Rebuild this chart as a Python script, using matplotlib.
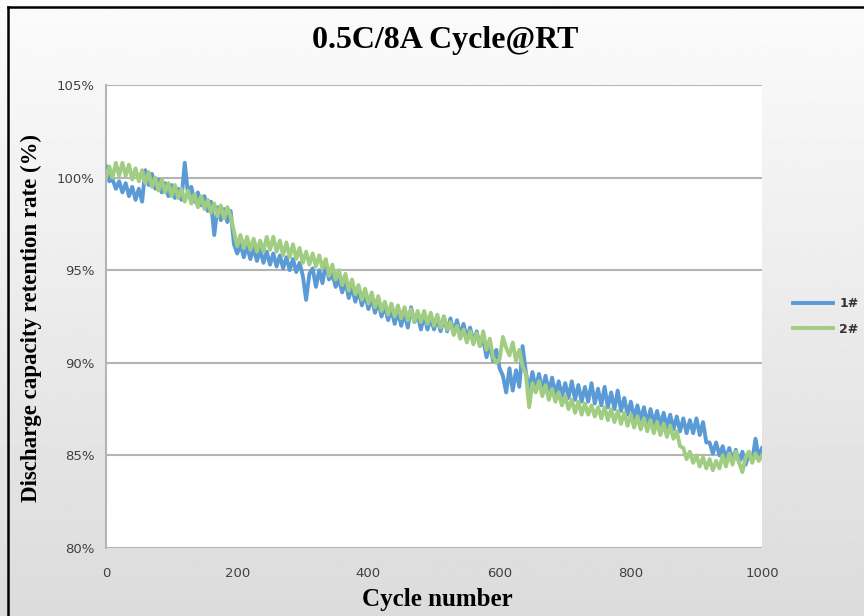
import matplotlib
matplotlib.use("Agg")
import matplotlib.pyplot as plt
import numpy as np
from matplotlib.lines import Line2D

# cycle numbers (every 5 cycles)
cycles = list(range(0, 1001, 5))

# 1# retention (%)
cell1 = [100.6, 99.8, 99.9, 99.4, 99.8, 99.2, 99.7, 99.0, 99.5, 98.8,
         99.4, 98.7, 100.4, 99.6, 100.2, 99.4, 99.9, 99.2, 99.7, 99.0,
         99.6, 98.9, 99.4, 98.8, 100.8, 99.1, 99.5, 98.7, 99.2, 98.5,
         99.0, 98.2, 98.7, 96.9, 98.4, 97.7, 98.3, 97.6, 98.2, 96.4,
         95.9, 96.4, 95.7, 96.3, 95.6, 96.2, 95.5, 96.1, 95.4, 96.0,
         95.3, 95.9, 95.2, 95.8, 95.1, 95.7, 95.0, 95.6, 94.9, 95.4,
         94.7, 93.4, 94.8, 95.1, 94.1, 95.0, 94.3, 95.4, 94.5, 94.8,
         94.1, 94.5, 93.8, 94.4, 93.5, 94.1, 93.3, 93.9, 93.1, 93.7,
         92.9, 93.5, 92.7, 93.3, 92.5, 93.1, 92.3, 92.9, 92.1, 92.8,
         92.0, 92.7, 91.9, 93.0, 92.2, 92.6, 91.8, 92.6, 91.8, 92.4,
         91.8, 92.4, 91.7, 92.5, 91.7, 92.4, 91.6, 92.3, 91.5, 92.1,
         91.3, 91.9, 91.1, 91.7, 90.9, 91.3, 90.3, 91.0, 90.1, 90.7,
         89.7, 89.3, 88.4, 89.7, 88.5, 89.6, 88.7, 90.9, 89.5, 88.5,
         89.5, 88.6, 89.4, 88.5, 89.3, 88.4, 89.2, 88.3, 89.0, 88.2,
         88.9, 88.1, 89.0, 88.0, 88.8, 87.9, 88.7, 87.9, 88.9, 87.8,
         88.6, 87.7, 88.7, 87.6, 88.4, 87.5, 88.5, 87.4, 88.1, 87.2,
         87.9, 87.0, 87.7, 86.9, 87.6, 86.7, 87.5, 86.7, 87.4, 86.6,
         87.3, 86.5, 87.2, 86.4, 87.1, 86.3, 87.0, 86.2, 86.9, 86.2,
         87.0, 86.1, 86.8, 85.7, 85.7, 85.1, 85.7, 85.0, 85.5, 84.8,
         85.4, 84.7, 85.3, 84.6, 85.2, 84.5, 85.1, 84.7, 85.9, 84.9,
         85.4]

# 2# retention (%)
cell2 = [100.0, 100.6, 100.0, 100.8, 100.1, 100.8, 100.1, 100.7, 99.9, 100.5,
         99.8, 100.4, 99.7, 100.3, 99.5, 100.0, 99.3, 99.9, 99.2, 99.7,
         99.0, 99.6, 98.9, 99.4, 98.7, 99.3, 98.6, 99.1, 98.4, 99.0,
         98.3, 98.8, 98.1, 98.6, 97.9, 98.5, 97.8, 98.4, 97.9, 97.1,
         96.3, 96.9, 96.2, 96.8, 96.1, 96.7, 96.0, 96.6, 96.0, 96.8,
         96.1, 96.8, 96.0, 96.6, 95.8, 96.5, 95.7, 96.4, 95.6, 96.2,
         95.4, 96.0, 95.3, 95.9, 95.2, 95.8, 95.1, 95.6, 94.7, 95.3,
         94.5, 95.0, 94.2, 94.8, 93.9, 94.5, 93.7, 94.2, 93.4, 94.0,
         93.2, 93.8, 93.0, 93.6, 92.8, 93.3, 92.6, 93.2, 92.5, 93.1,
         92.4, 93.0, 92.3, 92.9, 92.2, 92.8, 92.2, 92.8, 92.1, 92.7,
         92.0, 92.6, 91.9, 92.5, 91.8, 92.2, 91.5, 92.0, 91.3, 91.8,
         91.1, 91.7, 91.0, 91.6, 90.9, 91.7, 90.7, 91.3, 90.3, 90.0,
         90.2, 91.4, 90.8, 90.4, 91.1, 90.1, 90.7, 89.8, 89.4, 87.6,
         88.9, 88.4, 89.0, 88.2, 88.8, 88.0, 88.6, 87.9, 88.4, 87.7,
         88.2, 87.5, 88.0, 87.3, 87.9, 87.2, 87.8, 87.2, 87.7, 87.1,
         87.6, 87.0, 87.6, 86.9, 87.5, 86.8, 87.4, 86.7, 87.3, 86.6,
         87.2, 86.5, 87.1, 86.4, 87.0, 86.3, 86.9, 86.2, 86.8, 86.1,
         86.7, 86.0, 86.6, 85.9, 86.3, 85.5, 85.4, 84.8, 85.2, 84.6,
         85.0, 84.4, 84.9, 84.3, 84.8, 84.2, 84.7, 84.3, 85.0, 84.4,
         85.1, 84.5, 85.2, 84.6, 84.1, 84.9, 85.2, 84.6, 85.1, 84.7,
         85.0]

xticks = [0, 200, 400, 600, 800, 1000]
yticks = [80, 85, 90, 95, 100, 105]

fig = plt.figure(figsize=(8.64, 6.16), dpi=100)

# light gray gradient background
bg = fig.add_axes([0, 0, 1, 1], zorder=-10)
grad = np.linspace(0.985, 0.86, 256).reshape(-1, 1)
bg.imshow(grad, aspect="auto", cmap="gray", vmin=0, vmax=1, extent=[0, 1, 0, 1])
bg.axis("off")

# black frame on left and top
fig.add_artist(Line2D([0.0093, 0.0093], [0, 0.989], color="black", lw=1.8, transform=fig.transFigure))
fig.add_artist(Line2D([0.0093, 1.0], [0.989, 0.989], color="black", lw=1.8, transform=fig.transFigure))

ax = fig.add_axes([0.1227, 0.1104, 0.7593, 0.7516])
ax.set_facecolor("white")
ax.plot(cycles, cell1, color="#5b9bd5", lw=2.8, label="1#", zorder=3)
ax.plot(cycles, cell2, color="#a0cd82", lw=2.8, label="2#", zorder=4)

ax.set_xlim(0, 1000)
ax.set_ylim(80, 105)
ax.set_xticks(xticks)
ax.set_yticks(yticks)
ax.set_yticklabels([f"{v}%" for v in yticks])
ax.grid(axis="y", color="#b4b4b4", lw=1.5)
ax.set_axisbelow(True)
for s in ["top", "right", "bottom"]:
    ax.spines[s].set_visible(False)
ax.spines["left"].set_color("#b4b4b4")
ax.spines["left"].set_linewidth(1.5)
ax.tick_params(length=0, labelsize=9.5, labelcolor="#404040")
ax.tick_params(axis="x", pad=14)
ax.tick_params(axis="y", pad=8)
for lab in ax.get_xticklabels() + ax.get_yticklabels():
    lab.set_fontfamily("Liberation Sans Narrow")

fig.text(0.515, 0.935, "0.5C/8A Cycle@RT", ha="center", va="center",
         fontsize=23, fontweight="bold", family="Liberation Serif")
fig.text(0.506, 0.026, "Cycle number", ha="center", va="center",
         fontsize=18, fontweight="bold", family="Liberation Serif")
fig.text(0.036, 0.484, "Discharge capacity retention rate (%)", ha="center", va="center",
         rotation=90, fontsize=16.5, fontweight="bold", family="Liberation Serif")

leg = ax.legend(loc="center left", bbox_to_anchor=(1.03, 0.5), frameon=False,
                fontsize=9, handlelength=3.2, labelspacing=1.0, handletextpad=0.5)
for t in leg.get_texts():
    t.set_fontweight("bold")
    t.set_color("#333333")

fig.savefig("out.png", dpi=100)
